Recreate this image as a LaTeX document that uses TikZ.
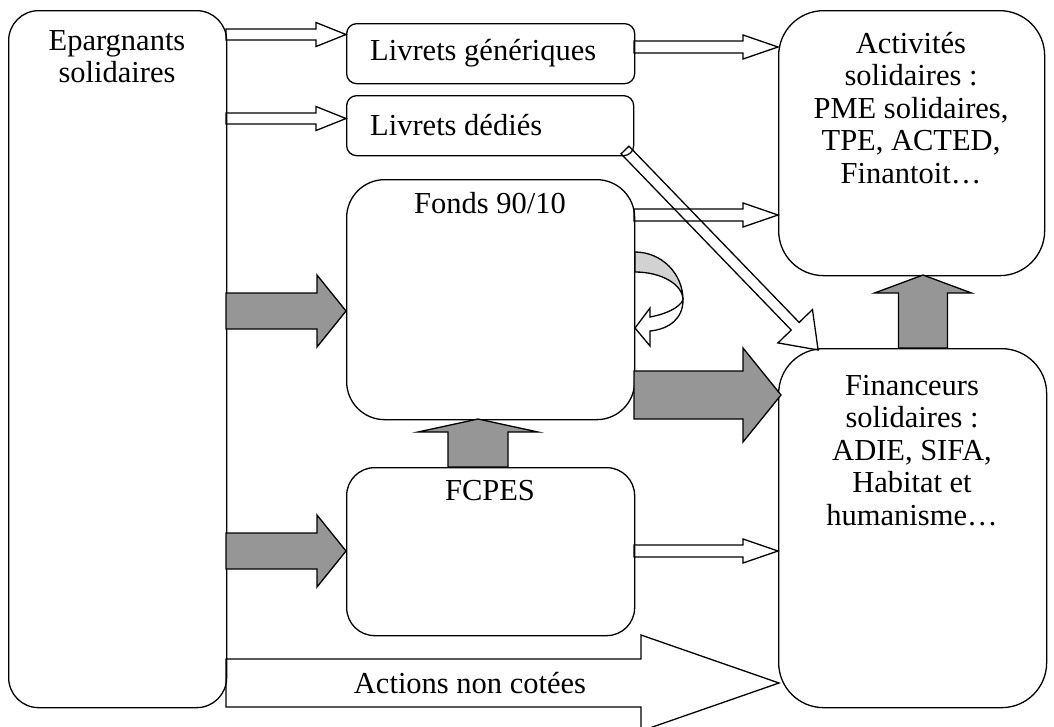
\documentclass[tikz,border=0pt]{standalone}
\usepackage{fontspec}
\setmainfont{Liberation Serif}
\newcommand\rblk[7][]{% style, x1, xtip, yc, shaft half, head half, head length
  \draw[#1] (#2,{#4-#5}) -- ({#3-#7},{#4-#5}) -- ({#3-#7},{#4-#6}) -- (#3,#4)
    -- ({#3-#7},{#4+#6}) -- ({#3-#7},{#4+#5}) -- (#2,{#4+#5}) -- cycle;}
\newcommand\ublk[7][]{% style, y1 (bottom), ytip, xc, shaft half, head half, head length
  \draw[#1] ({#4-#5},#2) -- ({#4-#5},{#3+#7}) -- ({#4-#6},{#3+#7}) -- (#4,#3)
    -- ({#4+#6},{#3+#7}) -- ({#4+#5},{#3+#7}) -- ({#4+#5},#2) -- cycle;}
\begin{document}
\begin{tikzpicture}[x=1pt,y=-1pt,
  box/.style={draw, line width=1.3pt, rounded corners=#1, inner sep=0pt, anchor=north west},
  txt/.style={inner sep=0pt, align=center, font=\fontsize{30.5}{32.5}\selectfont},
  warrow/.style={draw, line width=1.3pt, line join=miter},
  garrow/.style={draw, line width=1.3pt, fill=arrowgrey, line join=miter}]
\definecolor{arrowgrey}{RGB}{150,150,150}
\definecolor{bandgrey}{RGB}{210,210,210}
\useasboundingbox (0,0) rectangle (1054,726);
% boxes
\node[box=30, minimum width=218, minimum height=697] (epa) at (8,10) {};
\node[box=10, minimum width=288, minimum height=60] (lg) at (346,23) {};
\node[box=10, minimum width=287, minimum height=60] (ld) at (346,95) {};
\node[box=38, minimum width=288, minimum height=240] (fonds) at (346,179) {};
\node[box=28, minimum width=288, minimum height=168] (fcpes) at (346,467) {};
\node[box=45, minimum width=266, minimum height=265] (act) at (778,10) {};
\node[box=45, minimum width=268, minimum height=359] (fin) at (778,348) {};
% texts
\node[txt, anchor=north] (epat) at (117,30) {Epargnants\\solidaires};
\node[txt, anchor=west] (lgt) at (370,53) {Livrets génériques};
\node[txt, anchor=west] (ldt) at (370,125) {Livrets dédiés};
\node[txt, anchor=north] (fondst) at (490,192) {Fonds 90/10};
\node[txt, anchor=north] (fcpest) at (490,480) {FCPES};
\node[txt, anchor=north] (actt) at (911,32) {Activités\\solidaires :\\PME solidaires,\\TPE, ACTED,\\Finantoit…};
\node[txt, anchor=north] (fint) at (912,375) {Financeurs\\solidaires :\\ADIE, SIFA,\\Habitat et\\humanisme…};
% white arrows
\rblk[warrow]{226}{346}{34.5}{5.5}{12}{30}
\rblk[warrow]{226}{346}{118.5}{5.5}{12}{30}
\rblk[warrow]{634}{778}{47}{6}{12}{35}
\rblk[warrow]{634}{778}{215}{6}{12}{35}
\rblk[warrow]{634}{778}{551}{6}{12}{35}
% grey arrows
\rblk[garrow]{226}{346}{311}{18}{36}{29}
\rblk[garrow]{226}{346}{551}{18}{36}{29}
\rblk[garrow]{634}{781}{395}{24}{47}{38}
\ublk[garrow]{467}{419}{478}{30}{60}{13}
\ublk[garrow]{348}{275}{923}{24.5}{48.5}{18}
% actions non cotees
\rblk[warrow]{226}{779}{683}{24}{48}{138}
\node[txt] (actions) at (470,683) {Actions non cotées};
% diagonal arrow
\begin{scope}[shift={(625,150)}, rotate=-46]
\draw[warrow] (0,-5.5) -- (245,-5.5) -- (245,-24) -- (278,0) -- (245,24) -- (245,5.5) -- (0,5.5) -- cycle;
\end{scope}
% curved arrow
\draw[line width=1.3pt, fill=bandgrey] (635,252) .. controls (661.5,252) and (683,273.5) .. (683,300)
  .. controls (683,284.5) and (661.5,272) .. (635,272) -- cycle;
\draw[line width=1.3pt, fill=white, line join=miter] (683,300) .. controls (683,318) and (670,329) .. (650,331)
  -- (650,346) -- (635,328) -- (650,308) -- (650,317) .. controls (666,314) and (679,308) .. (683,300) -- cycle;
\end{tikzpicture}
\end{document}
